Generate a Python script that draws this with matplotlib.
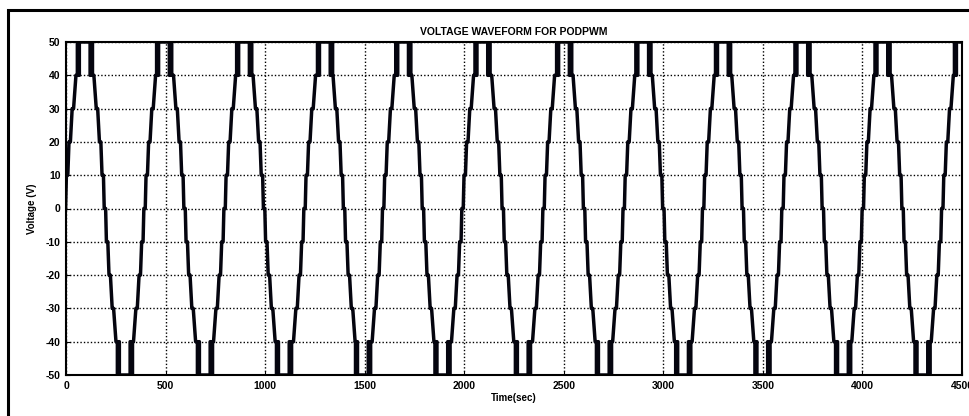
import matplotlib
matplotlib.use("Agg")
import matplotlib.pyplot as plt
from matplotlib.patches import Rectangle

# values
peak_times = [95, 493, 895, 1301, 1694, 2092, 2502, 2900, 3300, 3699, 4101, 4500]
trough_times = [296, 698, 1095, 1492, 1891, 2295, 2702, 3100, 3498, 3903, 4302]
# staircase levels and where a rising edge crosses them (relative to its zero crossing)
step_levels = [-40, -30, -20, -10, 0, 10, 20, 30, 40]
step_offsets = [-59, -40, -24, -11, 0, 11, 24, 40, 59]
# PWM switching instants around each positive / negative peak
pwm_offsets = [-38, -33, -28, 26, 31, 38]
x_ticks = [0, 500, 1000, 1500, 2000, 2500, 3000, 3500, 4000, 4500]
y_ticks = [-50, -40, -30, -20, -10, 0, 10, 20, 30, 40, 50]

plt.rcParams['font.family'] = ['Liberation Sans', 'DejaVu Sans']
plt.rcParams['font.weight'] = 'bold'
plt.rcParams['axes.unicode_minus'] = False

jog = 3.5

def add_edge(t, v, z, rising):
    pairs = list(zip(step_levels, step_offsets))
    if not rising:
        pairs = [(-lv, off) for lv, off in pairs]
    for lv, off in pairs:
        t.extend([z + off - jog, z + off + jog])
        v.extend([lv, lv])

def add_pwm(t, v, c, positive):
    lo, hi = (40, 50) if positive else (-40, -50)
    cur = lo
    for off in pwm_offsets:
        nxt = hi if cur == lo else lo
        t.extend([c + off, c + off])
        v.extend([cur, nxt])
        cur = nxt

extrema = sorted([(p, True) for p in peak_times] + [(q, False) for q in trough_times])

t_pts, v_pts = [], []
# leading edge before the first extremum
c0, pos0 = extrema[0]
half = (extrema[1][0] - c0) / 2
add_edge(t_pts, v_pts, c0 - half, pos0)
for i, (c, pos) in enumerate(extrema):
    add_pwm(t_pts, v_pts, c, pos)
    if i + 1 < len(extrema):
        z = (c + extrema[i + 1][0]) / 2
        add_edge(t_pts, v_pts, z, not pos)

fig = plt.figure(figsize=(9.69, 4.16), dpi=100)
ax = fig.add_axes([66/969, 1 - 375/416, (962 - 66)/969, (375 - 42)/416])

ax.plot(t_pts, v_pts, color='#05050f', linewidth=2.5)

ax.set_xlim(0, 4500)
ax.set_ylim(-50, 50)
ax.set_xticks(x_ticks)
ax.set_yticks(y_ticks)
ax.grid(True, color='k', linestyle=(0, (1, 1.5)), linewidth=1.0)
ax.set_axisbelow(True)
ax.tick_params(direction='in', length=3, labelsize=7.5, pad=4)
for lbl in ax.get_xticklabels() + ax.get_yticklabels():
    lbl.set_fontweight('bold')
for s in ax.spines.values():
    s.set_linewidth(1.5)

ax.set_title('VOLTAGE WAVEFORM FOR PODPWM', fontsize=7.5, fontweight='bold', pad=5)
ax.set_xlabel('Time(sec)', fontsize=7, fontweight='bold', labelpad=2)
ax.set_ylabel('Voltage (V)', fontsize=7, fontweight='bold', labelpad=6)

# outer frame, cut off at the right and bottom like the reference
fig.patches.append(Rectangle((8/969, -0.1), 1.2, 1.1 - 10/416, transform=fig.transFigure,
                             fill=False, edgecolor='k', linewidth=2.2, clip_on=False))

fig.savefig('out.png', dpi=100)
